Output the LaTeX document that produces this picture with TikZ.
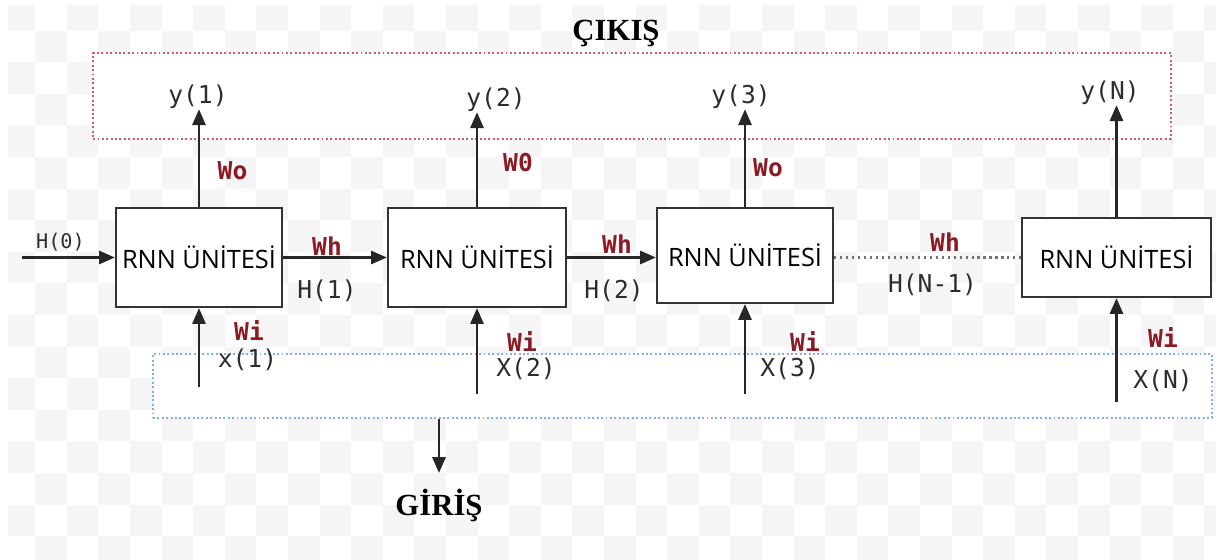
\documentclass[tikz,border=0pt]{standalone}
\usepackage{fontspec}
\setmainfont{Liberation Serif}
\setmonofont{DejaVu Sans Mono}
\newfontfamily\unitfont{Open Sans}
\usepackage{tikz}
\usetikzlibrary{arrows.meta}
\definecolor{wred}{RGB}{140,26,36}
\definecolor{lblgrey}{RGB}{45,45,45}
\definecolor{outred}{RGB}{210,90,110}
\definecolor{inblue}{RGB}{130,175,230}
\definecolor{checker}{RGB}{245,245,245}
\tikzstyle{block} = [rectangle, draw=black!80, fill=white, line width=1.3pt,
    inner sep=0pt, text=black, font=\unitfont\fontsize{14.4}{16}\selectfont]
\tikzstyle{var} = [inner sep=0pt, text=lblgrey, font=\ttfamily\fontsize{14}{15}\selectfont]
\tikzstyle{weight} = [inner sep=0pt, text=wred, font=\ttfamily\bfseries\fontsize{14}{15}\selectfont]
\tikzstyle{title} = [inner sep=0pt, font=\bfseries\fontsize{17.5}{19}\selectfont]
\tikzstyle{group} = [rectangle, fill=white, line width=1.1pt,
    dash pattern=on 1.1pt off 1.4pt, inner sep=0pt]
\tikzstyle{line} = [draw, line width=1.3pt, black!85, -{Triangle[length=9pt,width=7.5pt]}]
\tikzstyle{link} = [draw, line width=1.2pt, black!55, dash pattern=on 1.2pt off 2.2pt]

\begin{document}
\begin{tikzpicture}[x=0.02cm, y=-0.02cm]
    \useasboundingbox (0,0) rectangle (1228,560);
    % checker background
    \begin{scope}
        \clip (8,6) rectangle (1216,560);
        \foreach \i in {0,...,38}
            \foreach \j in {0,...,17} {
                \pgfmathtruncatemacro{\odd}{mod(\i+\j,2)}
                \ifnum\odd=0
                    \fill [checker] ({3.5+31.6*\i},{-1+31.6*\j}) rectangle +(31.6,31.6);
                \fi
            }
    \end{scope}

    % Place nodes
    \node [group, draw=outred, minimum width=21.56cm, minimum height=1.72cm] (outputs) at (632,96) {};
    \node [group, draw=inblue, minimum width=21.18cm, minimum height=1.28cm] (inputs) at (682.5,386) {};
    \node [title] (cikis) at (616,33) {ÇIKIŞ};
    \node [title] (giris) at (439,505) {GİRİŞ};

    \node [block, minimum width=3.32cm, minimum height=1.98cm] (cell1) at (199,257.5) {RNN ÜNİTESİ};
    \node [block, minimum width=3.56cm, minimum height=1.98cm] (cell2) at (477,257.5) {RNN ÜNİTESİ};
    \node [block, minimum width=3.52cm, minimum height=1.90cm] (cell3) at (745,255.5) {RNN ÜNİTESİ};
    \node [block, minimum width=3.78cm, minimum height=1.58cm] (cellN) at (1116.5,257.5) {RNN ÜNİTESİ};

    \node [var] (y1) at (198,97) {y(1)};
    \node [var] (y2) at (496,100) {y(2)};
    \node [var] (y3) at (741,97) {y(3)};
    \node [var] (yN) at (1110,93) {y(N)};
    \node [weight] (wo1) at (232.5,170.5) {Wo};
    \node [weight] (wo2) at (518,163) {W0};
    \node [weight] (wo3) at (768,168) {Wo};

    \node [var, font=\ttfamily\fontsize{11.5}{13}\selectfont] (h0) at (60.5,242.5) {H(0)};
    \node [weight] (wh1) at (327,246) {Wh};
    \node [weight] (wh2) at (617,244.5) {Wh};
    \node [weight] (wh3) at (945,242) {Wh};
    \node [var] (h1) at (327,291) {H(1)};
    \node [var] (h2) at (614,291) {H(2)};
    \node [var] (hN) at (932.5,285) {H(N-1)};

    \node [weight] (wi1) at (249,331) {Wi};
    \node [weight] (wi2) at (522,341.5) {Wi};
    \node [weight] (wi3) at (805,341.5) {Wi};
    \node [weight] (wiN) at (1163,337.5) {Wi};
    \node [var] (x1) at (247.5,360) {x(1)};
    \node [var] (x2) at (526,369) {X(2)};
    \node [var] (x3) at (790,369) {X(3)};
    \node [var] (xN) at (1163,381) {X(N)};

    \coordinate (start) at (22,257.5);
    \coordinate (in1) at (199,387);
    \coordinate (in2) at (477,394);
    \coordinate (in3) at (745,394);
    \coordinate (inN) at (1116.5,402);

    % Draw edges
    \path [line] (start) -- (cell1);
    \path [line] (cell1) -- (cell2);
    \path [line] (cell2.east) -- (cell2.east -| cell3.west);
    \path [link] (cell3.east |- cellN) -- (cellN);
    \path [line] (cell1) -- (cell1 |- y1.south);
    \path [line] (cell2) -- (cell2 |- y2.south);
    \path [line] (cell3) -- (cell3 |- y3.south);
    \path [line] (cellN) -- (cellN |- yN.south);
    \path [line] (in1) -- (cell1);
    \path [line] (in2) -- (cell2);
    \path [line] (in3) -- (cell3);
    \path [line] (inN) -- (cellN);
    \path [line] (inputs.south -| giris) -- ++(0,54);
\end{tikzpicture}
\end{document}
